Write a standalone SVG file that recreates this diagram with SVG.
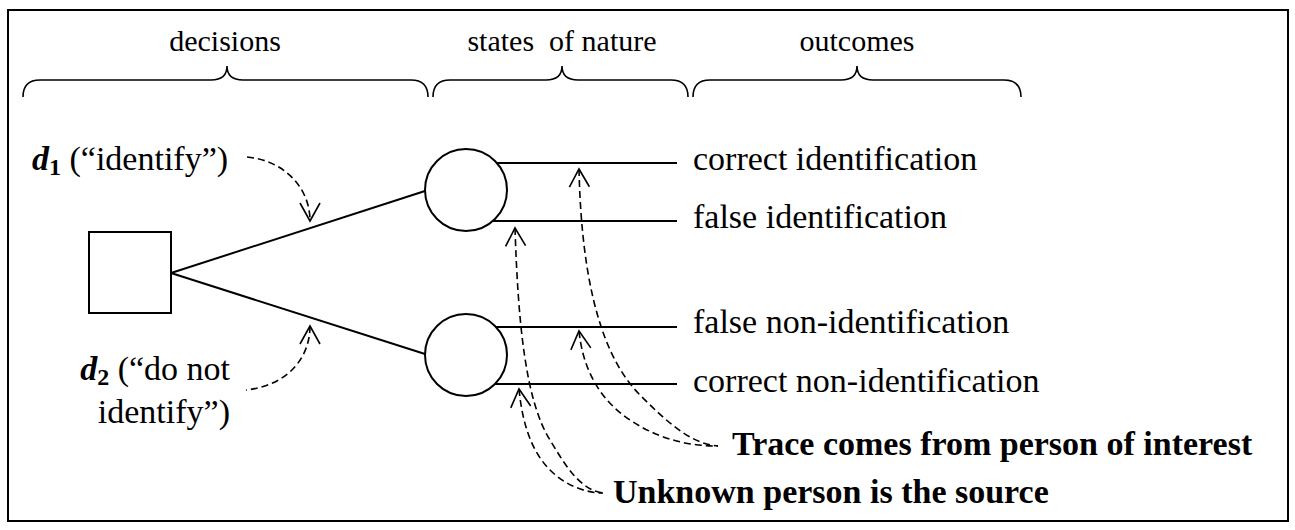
<svg xmlns="http://www.w3.org/2000/svg" width="1295" height="530" viewBox="0 0 1295 530" font-family="'Liberation Serif', 'Times New Roman', 'DejaVu Serif', serif">
<style>
.ln{fill:none;stroke:#000;stroke-width:2}
.br{fill:none;stroke:#000;stroke-width:1.6}
.ds{fill:none;stroke:#000;stroke-width:1.6;stroke-dasharray:7 4}
text{font-family:'Liberation Serif','Times New Roman','DejaVu Serif',serif;fill:#000}
.hd{font-size:30px}
.oc{font-size:34px}
.bd{font-size:34px;font-weight:bold}
</style>
<defs>
<marker id="v" viewBox="-20 -12 22 24" markerWidth="22" markerHeight="24" refX="0" refY="0" orient="auto-start-reverse" markerUnits="userSpaceOnUse" overflow="visible">
<path d="M-18,-10 L0,0 L-18,10" fill="none" stroke="#000" stroke-width="1.6"/>
</marker>
</defs>
<rect x="8" y="10" width="1280" height="511" fill="#fff" stroke="#000" stroke-width="2"/>
<g id="headers">
<text class="hd" x="225" y="51" text-anchor="middle">decisions</text>
<text class="hd" x="562" y="51" text-anchor="middle" xml:space="preserve">states  of nature</text>
<text class="hd" x="857" y="51" text-anchor="middle">outcomes</text>
<path class="br" d="M23,97 Q23,80 40,80 L211,80 Q227,80 227,66 Q227,80 243,80 L411,80 Q428,80 428,97"/>
<path class="br" d="M433,97 Q433,80 450,80 L546,80 Q562,80 562,66 Q562,80 578,80 L671,80 Q688,80 688,97"/>
<path class="br" d="M693,97 Q693,80 710,80 L841,80 Q857,80 857,66 Q857,80 873,80 L1004,80 Q1021,80 1021,97"/>
</g>
<g id="decision">
<rect class="ln" x="89" y="232" width="82" height="81"/>
</g>
<g id="chance1">
<circle class="ln" cx="466" cy="190" r="41"/>
</g>
<g id="chance2">
<circle class="ln" cx="466" cy="355" r="41"/>
</g>
<g id="connectors">
<path class="ln" d="M171,273 L425,191"/>
<path class="ln" d="M171,273 L425,354"/>
<path class="ln" d="M497,163 L677,163"/>
<path class="ln" d="M493,221 L677,221"/>
<path class="ln" d="M496,327 L677,327"/>
<path class="ln" d="M495,384 L677,384"/>
<path class="ds" d="M247,157 C282,160 310,186 310,221" marker-end="url(#v)"/>
<path class="ds" d="M310,326 C310,360 285,386 246,390" marker-start="url(#v)"/>
<path class="ds" d="M579,169 C581,260 595,350 640,395 C665,420 690,444 718,446" marker-start="url(#v)"/>
<path class="ds" d="M579,331 C583,370 600,400 630,420 C660,440 690,446 718,446" marker-start="url(#v)"/>
<path class="ds" d="M515,228 C518,320 525,400 550,440 C565,465 580,490 603,493" marker-start="url(#v)"/>
<path class="ds" d="M519,389 C522,420 530,450 550,470 C565,485 585,493 603,493" marker-start="url(#v)"/>
</g>
<g id="label-d1">
<text class="oc" x="32" y="170"><tspan font-weight="bold" font-style="italic">d</tspan><tspan font-weight="bold" font-size="24" dy="5">1</tspan><tspan dy="-5" xml:space="preserve"> (“identify”)</tspan></text>
</g>
<g id="label-d2">
<text class="oc" x="230" y="380" text-anchor="end"><tspan font-weight="bold" font-style="italic">d</tspan><tspan font-weight="bold" font-size="24" dy="5">2</tspan><tspan dy="-5" xml:space="preserve"> (“do not</tspan></text>
<text class="oc" x="230" y="423" text-anchor="end">identify”)</text>
</g>
<g id="outcome1"><text class="oc" x="693" y="170">correct identification</text></g>
<g id="outcome2"><text class="oc" x="693" y="228">false identification</text></g>
<g id="outcome3"><text class="oc" x="693" y="333">false non-identification</text></g>
<g id="outcome4"><text class="oc" x="693" y="392">correct non-identification</text></g>
<g id="label-poi"><text class="bd" x="732" y="455">Trace comes from person of interest</text></g>
<g id="label-unknown"><text class="bd" x="613" y="503">Unknown person is the source</text></g>
</svg>
